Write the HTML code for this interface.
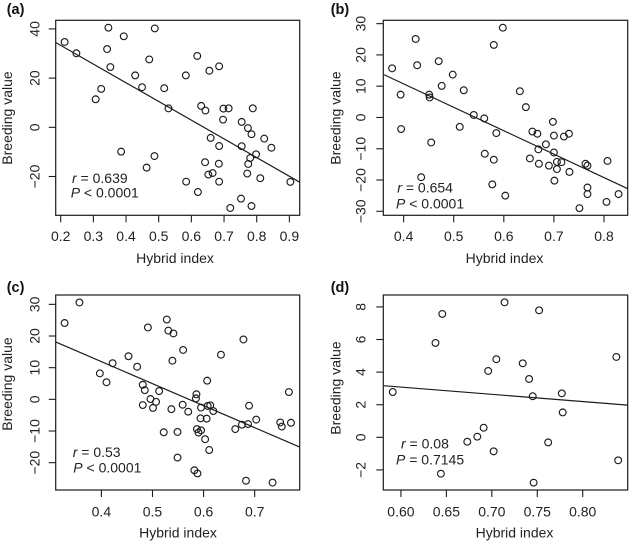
<!DOCTYPE html>
<html lang="en">
<head>
<meta charset="utf-8">
<title>Breeding value vs hybrid index</title>
<style>
html,body{margin:0;padding:0;background:#fff;}
svg{display:block;filter:blur(0.35px);}
text{font-family:"Liberation Sans",Arial,sans-serif;font-size:14px;fill:#222;}
.letter{font-weight:bold;font-size:14.5px;fill:#111;}
</style>
</head>
<body>
<svg id="figure" xmlns="http://www.w3.org/2000/svg" width="630" height="543" viewBox="0 0 630 543">
  <g id="panel-a">
    <text class="letter" x="6.7" y="14">(a)</text>
    <text x="175" y="263" text-anchor="middle">Hybrid index</text>
    <text transform="translate(12,118) rotate(-90)" text-anchor="middle">Breeding value</text>
    <text x="72" y="183"><tspan font-style="italic">r</tspan> = 0.639</text>
    <text x="70.7" y="197.7"><tspan font-style="italic">P</tspan> &lt; 0.0001</text>
  </g>
  <g id="panel-b">
    <text class="letter" x="330.7" y="14">(b)</text>
    <text x="504.5" y="263" text-anchor="middle">Hybrid index</text>
    <text transform="translate(340.3,118) rotate(-90)" text-anchor="middle">Breeding value</text>
    <text x="397.3" y="192.7"><tspan font-style="italic">r</tspan> = 0.654</text>
    <text x="396" y="208.3"><tspan font-style="italic">P</tspan> &lt; 0.0001</text>
  </g>
  <g id="panel-c">
    <text class="letter" x="6.7" y="292">(c)</text>
    <text x="178" y="537.7" text-anchor="middle">Hybrid index</text>
    <text transform="translate(12,384) rotate(-90)" text-anchor="middle">Breeding value</text>
    <text x="72.7" y="457"><tspan font-style="italic">r</tspan> = 0.53</text>
    <text x="73.3" y="472.7"><tspan font-style="italic">P</tspan> &lt; 0.0001</text>
  </g>
  <g id="panel-d">
    <text class="letter" x="330.7" y="292">(d)</text>
    <text x="514.5" y="537.7" text-anchor="middle">Hybrid index</text>
    <text transform="translate(340.3,388) rotate(-90)" text-anchor="middle">Breeding value</text>
    <text x="401" y="448.7"><tspan font-style="italic">r</tspan> = 0.08</text>
    <text x="396" y="464.3"><tspan font-style="italic">P</tspan> = 0.7145</text>
  </g>
</svg>
<script>
// Panel (a) data
const aHybrid = [0.212,0.248,0.346,0.488,0.393,0.342,0.352,0.324,0.307,0.428,0.449,0.471,0.517,0.530,0.583,0.618,0.655,0.685,0.630,0.643,0.698,0.714,0.788,0.697,0.754,0.773,0.784,0.823,0.845,0.659,0.685,0.754,0.798,0.780,0.774,0.642,0.684,0.771,0.665,0.652,0.685,0.584,0.620,0.811,0.903,0.752,0.784,0.719,0.385,0.487,0.463];
const aBreeding = [34.7,30.1,40.5,40.2,37,31.8,24.5,15.6,11.4,21.1,16.3,27.6,15.9,7.7,21.1,29,23,24.8,8.7,6.8,7.6,7.7,7.7,3.1,2.2,-0.3,-2.8,-4.6,-8.3,-4.3,-7.6,-7.7,-11,-12.5,-14.9,-14.2,-14.8,-18.8,-18.6,-19.2,-22.1,-22.1,-26.3,-20.7,-22.2,-29,-32,-32.8,-9.9,-11.7,-16.4];
const aFit = [48.5,-76];
const aXTicks = [0.2,0.3,0.4,0.5,0.6,0.7,0.8,0.9];
const aYTicks = [-20,0,20,40];
const aXRange = [0.1847,0.9316];
const aYRange = [-35.77,43.5];

// Panel (b) data
const bHybrid = [0.377,0.394,0.395,0.424,0.427,0.451,0.452,0.455,0.435,0.470,0.476,0.498,0.520,0.512,0.540,0.561,0.585,0.562,0.580,0.577,0.603,0.580,0.598,0.632,0.644,0.657,0.667,0.698,0.700,0.720,0.730,0.684,0.669,0.700,0.652,0.670,0.690,0.706,0.715,0.706,0.731,0.701,0.763,0.767,0.807,0.767,0.767,0.829,0.805,0.751];
const bBreeding = [15.7,7.3,-3.7,25.1,16.7,7.3,6.4,-8,-19.1,18,10.1,13.7,8.7,-3,0.8,-0.3,-5,-11.6,-13.5,-21.4,-25,23.2,28.7,8.4,3.3,-4.5,-5.2,-1.4,-5.8,-6.1,-5.2,-8.6,-10.2,-11.2,-13.1,-14.8,-15.4,-14.2,-14.3,-16.5,-17.4,-20.2,-14.8,-15.4,-13.9,-22.4,-24.5,-24.5,-27,-29];
const bFit = [40.7,-74.9];
const bXTicks = [0.4,0.5,0.6,0.7,0.8];
const bYTicks = [-30,-20,-10,0,10,20,30];
const bXRange = [0.3594,0.8473];
const bYRange = [-31.28,31.07];

// Panel (c) data
const cHybrid = [0.328,0.357,0.397,0.410,0.422,0.453,0.470,0.491,0.528,0.531,0.541,0.560,0.539,0.481,0.485,0.513,0.481,0.496,0.507,0.501,0.537,0.559,0.570,0.586,0.585,0.595,0.608,0.613,0.619,0.607,0.634,0.678,0.594,0.606,0.522,0.549,0.587,0.595,0.590,0.603,0.611,0.549,0.582,0.588,0.662,0.675,0.687,0.689,0.703,0.683,0.735,0.750,0.753,0.767,0.771];
const cBreeding = [24.1,30.6,8.2,5.4,11.4,13.6,10.3,22.7,25.2,21.7,20.8,15.6,12.2,4.6,2.9,2.6,-1.8,0.1,-0.8,-2.7,-3.1,-1.7,-3.9,1.6,0.3,-2.6,-2.1,-1.9,-3.7,5.9,14.1,18.9,-6,-6.1,-10.4,-10.3,-9.4,-9.8,-10.5,-12.6,-16,-18.4,-22.4,-23.4,-9.4,-8,-7.8,-2,-6.4,-25.7,-26.3,-7.3,-8.6,2.3,-7.4];
const cFit = [39.7,-69.5];
const cXTicks = [0.4,0.5,0.6,0.7];
const cYTicks = [-20,-10,0,10,20,30];
const cXRange = [0.3106,0.7881];
const cYRange = [-28.63,32.95];

// Panel (d) data
const dHybrid = [0.591,0.638,0.6455,0.644,0.673,0.684,0.691,0.696,0.702,0.705,0.714,0.734,0.741,0.745,0.746,0.752,0.762,0.777,0.778,0.837,0.839];
const dBreeding = [2.78,5.79,7.57,-2.23,-0.27,0.04,0.59,4.07,-0.86,4.79,8.28,4.54,3.58,2.52,-2.78,7.79,-0.31,2.7,1.53,4.93,-1.41];
const dFit = [5.74,-4.43];
const dXTicks = [0.60,0.65,0.70,0.75,0.80];
const dYTicks = [-2,0,2,4,6,8];
const dXRange = [0.5806,0.8495];
const dYRange = [-3.23,8.73];

const NS = 'http://www.w3.org/2000/svg';
const INK = '#1c1c1c';

function make(parent, tag, attrs, name) {
  const el = document.createElementNS(NS, tag);
  for (const k in attrs) el.setAttribute(k, attrs[k]);
  
  
  parent.appendChild(el);
  return el;
}

function drawPanel(id, box, layout, xs, ys, fit, xTicks, yTicks, xRange, yRange, xDigits) {
  const g = document.getElementById('panel-' + id);
  const sx = v => box.l + (v - xRange[0]) / (xRange[1] - xRange[0]) * (box.r - box.l);
  const sy = v => box.b - (v - yRange[0]) / (yRange[1] - yRange[0]) * (box.b - box.t);

  make(g, 'rect', {x: box.l, y: box.t, width: box.r - box.l, height: box.b - box.t, fill: 'none', stroke: INK, 'stroke-width': 1.2}, 'panel-' + id + '-plot-box');

  xTicks.forEach(t => {
    const x = sx(t);
    make(g, 'line', {x1: x, x2: x, y1: box.b, y2: box.b + 7, stroke: INK, 'stroke-width': 1.1}, 'x-tick');
    const lab = make(g, 'text', {x: x, y: layout.xLabelY, 'text-anchor': 'middle'}, 'x-tick-label');
    lab.textContent = t.toFixed(xDigits);
  });

  yTicks.forEach(t => {
    const y = sy(t);
    make(g, 'line', {x1: box.l - 7, x2: box.l, y1: y, y2: y, stroke: INK, 'stroke-width': 1.1}, 'y-tick');
    const lab = make(g, 'text', {transform: 'translate(' + layout.yLabelX + ',' + y + ') rotate(-90)', 'text-anchor': 'middle'}, 'y-tick-label');
    lab.textContent = String(t).replace('-', '\u2212');
  });

  const fitAt = x => fit[0] + fit[1] * x;
  make(g, 'line', {x1: sx(xRange[0]), y1: sy(fitAt(xRange[0])), x2: sx(xRange[1]), y2: sy(fitAt(xRange[1])), stroke: INK, 'stroke-width': 1.2}, 'panel-' + id + '-regression-line');

  xs.forEach((v, i) => {
    make(g, 'circle', {cx: sx(v), cy: sy(ys[i]), r: 3.4, fill: 'none', stroke: INK, 'stroke-width': 1.15}, 'data-point');
  });
}

drawPanel('a', {l: 55.7, r: 299.7, t: 20.3, b: 215.3}, {xLabelY: 241, yLabelX: 39.3}, aHybrid, aBreeding, aFit, aXTicks, aYTicks, aXRange, aYRange, 1);
drawPanel('b', {l: 383.3, r: 627.7, t: 20.3, b: 215.3}, {xLabelY: 241, yLabelX: 365.7}, bHybrid, bBreeding, bFit, bXTicks, bYTicks, bXRange, bYRange, 1);
drawPanel('c', {l: 55.7, r: 299.7, t: 295, b: 490}, {xLabelY: 516.3, yLabelX: 39.3}, cHybrid, cBreeding, cFit, cXTicks, cYTicks, cXRange, cYRange, 1);
drawPanel('d', {l: 383.3, r: 627.7, t: 295, b: 490}, {xLabelY: 516.3, yLabelX: 365.7}, dHybrid, dBreeding, dFit, dXTicks, dYTicks, dXRange, dYRange, 2);
</script>
</body>
</html>
